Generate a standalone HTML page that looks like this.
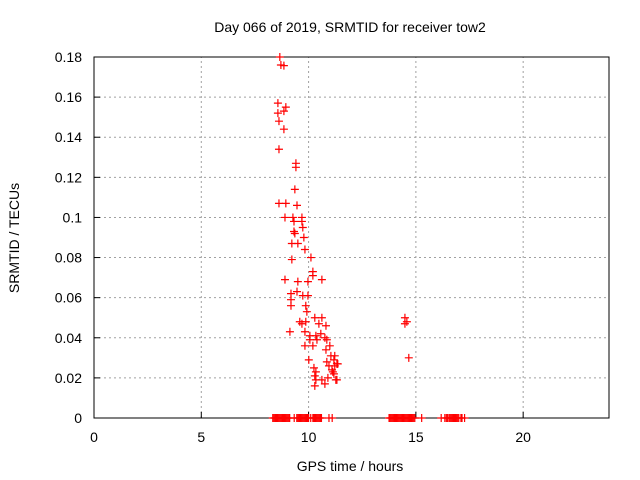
<!DOCTYPE html>
<html><head><meta charset="utf-8"><style>
body{margin:0;background:#fff;}
svg{display:block;font-family:"Liberation Sans",sans-serif;}
</style></head><body>
<svg id="chart" width="640" height="480">
<text x="350" y="32" font-size="14" text-anchor="middle">Day 066 of 2019, SRMTID for receiver tow2</text>
<text x="350" y="471" font-size="14" text-anchor="middle">GPS time / hours</text>
<text x="19" y="238" font-size="14" text-anchor="middle" transform="rotate(-90 19 238)">SRMTID / TECUs</text>
<g id="grid"></g><g id="axes"></g><g id="marks"></g>
</svg>
<script>
const xTicks=[0,5,10,15,20];
const yTicks=[0,0.02,0.04,0.06,0.08,0.1,0.12,0.14,0.16,0.18];
const yTickLabels=["0","0.02","0.04","0.06","0.08","0.1","0.12","0.14","0.16","0.18"];
const hours=[8.66,8.71,8.85,8.57,8.94,8.57,8.85,8.62,8.85,8.62,9.41,9.41,9.36,8.62,8.94,9.46,8.90,9.27,9.69,9.32,9.69,9.73,9.32,9.36,9.78,9.50,9.22,9.83,9.22,10.11,10.20,10.20,8.90,9.50,9.97,10.62,9.18,9.46,9.73,9.97,9.18,9.18,9.87,9.92,9.59,9.69,9.87,10.29,10.62,10.48,10.57,9.83,10.06,10.34,10.76,9.13,10.85,10.39,10.06,9.83,10.20,10.99,10.81,11.04,11.22,11.18,10.95,11.22,11.09,10.01,10.25,10.34,10.29,10.90,10.76,11.27,10.29,10.85,11.32,10.62,10.34,11.13,11.32,14.49,14.58,14.49,14.67,11.18,11.36,10.81];
const tecu=[0.180,0.176,0.1757,0.157,0.155,0.152,0.153,0.148,0.144,0.134,0.127,0.125,0.114,0.107,0.107,0.106,0.100,0.100,0.100,0.098,0.098,0.095,0.093,0.092,0.090,0.087,0.087,0.084,0.079,0.080,0.073,0.071,0.069,0.068,0.068,0.069,0.062,0.063,0.061,0.061,0.059,0.056,0.056,0.053,0.048,0.047,0.048,0.050,0.050,0.047,0.042,0.043,0.041,0.041,0.040,0.043,0.039,0.039,0.039,0.036,0.036,0.036,0.034,0.031,0.031,0.029,0.026,0.026,0.024,0.029,0.025,0.023,0.021,0.020,0.017,0.019,0.016,0.028,0.027,0.019,0.019,0.023,0.019,0.050,0.048,0.047,0.030,0.022,0.027,0.046];
const zeroHours=[8.33,8.38,8.43,8.48,8.53,8.58,8.63,8.68,8.73,8.78,8.83,8.88,8.93,8.98,9.03,9.08,9.12,9.33,9.45,9.5,9.55,9.6,9.65,9.7,9.75,9.8,9.85,9.9,9.95,10.0,10.1,10.2,10.25,10.3,10.35,10.4,10.45,10.5,10.55,10.6,10.95,11.1,13.75,13.8,13.85,13.9,13.95,14.0,14.05,14.1,14.15,14.2,14.25,14.3,14.35,14.4,14.45,14.5,14.55,14.6,14.65,14.7,14.75,14.8,14.85,14.9,14.95,15.27,16.18,16.35,16.42,16.48,16.55,16.6,16.65,16.7,16.75,16.8,16.85,16.9,16.95,17.0,17.1,17.15,17.27];
const X0=94,X1=609,Y0=418,Y1=57;
const xs=v=>X0+v/24*(X1-X0);
const ys=v=>Y0-v/0.18*(Y0-Y1);
const NS="http://www.w3.org/2000/svg";
function mk(parent,tag,attrs){const e=document.createElementNS(NS,tag);for(const k in attrs)e.setAttribute(k,attrs[k]);document.getElementById(parent).appendChild(e);return e;}
xTicks.forEach((t,i)=>{
 if(t>0){const g=mk('grid','line',{x1:xs(t),x2:xs(t),y1:Y0,y2:Y1,stroke:'#a0a0a0','stroke-dasharray':'2,3'});
 
 }
 const tk=mk('axes','line',{x1:xs(t),x2:xs(t),y1:Y0,y2:Y0-6,stroke:'#000'});
 
 
 const tl=mk('axes','text',{x:xs(t),y:Y0+24,'font-size':14,'text-anchor':'middle'});tl.textContent=t;
 
 
});
yTicks.forEach((t,i)=>{
 if(t>0&&t<0.18){const g=mk('grid','line',{x1:X0,x2:X1,y1:ys(t),y2:ys(t),stroke:'#a0a0a0','stroke-dasharray':'2,3'});
 
 }
 const tk=mk('axes','line',{x1:X0,x2:X0+6,y1:ys(t),y2:ys(t),stroke:'#000'});
 
 
 const tl=mk('axes','text',{x:X0-12,y:ys(t)+5,'font-size':14,'text-anchor':'end'});tl.textContent=yTickLabels[i];
 
 
});
const fr=mk('axes','rect',{x:X0,y:Y1,width:X1-X0,height:Y0-Y1,fill:'none',stroke:'#000'});


function plus(h,v,c){
 const x=xs(h),y=ys(v);
 const p=mk('marks','path',{d:`M${x-4},${y}H${x+4}M${x},${y-4}V${y+4}`,stroke:c,'stroke-width':1.2});
 return p;
}
hours.forEach((h,i)=>{
 const p=plus(h,tecu[i],'red');
 
 
});
zeroHours.forEach(h=>{
 const p=plus(h,0,'red');
 
 
});
</script>
</body></html>
